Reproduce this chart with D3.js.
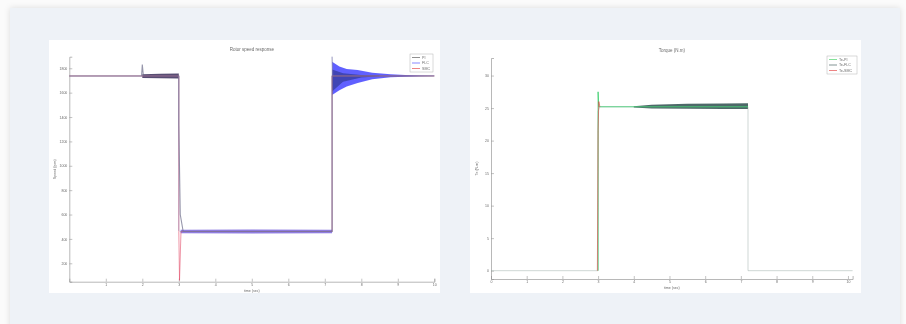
<!DOCTYPE html>
<html>
<head>
<meta charset="utf-8">
<script src="https://cdn.jsdelivr.net/npm/d3@7"></script>
<style>
  html, body { margin: 0; padding: 0; background: #fbfbfb; }
  svg { display: block; }
  text { font-family: "Liberation Sans", Arial, sans-serif; fill: #6a6a6a; }
</style>
</head>
<body>
<svg id="chart" width="906" height="324"></svg>
<script>
// ---- left figure: rotor speed ----
const speedXTicks = [1, 2, 3, 4, 5, 6, 7, 8, 9, 10];
const speedYTicks = [200, 400, 600, 800, 1000, 1200, 1400, 1600, 1800];
const speedNames = ['PI', 'FLC', 'SMC'];

const refT = [0, 3, 3, 3.02, 3.06, 7.2, 7.2, 10];
const refV = [1737, 1737, 461, 60, 461, 461, 1737, 1737];
const piT = [0, 1.98, 2, 2.03, 3, 3, 3.04, 3.12, 7.2, 7.2, 10];
const piV = [1737, 1737, 1830, 1737, 1737, 1340, 600, 461, 461, 1737, 1737];
const smcT = [0, 3, 3, 3.03, 7.2, 7.2, 7.22, 10];
const smcV = [1737, 1737, 470, 461, 461, 1895, 1737, 1737];

// ripple envelopes (lower / upper)
const piRippleT = [2, 2.5, 3];
const piRippleLo = [1720, 1718, 1716];
const piRippleHi = [1752, 1755, 1757];
const lowRippleT = [3.05, 5, 7.2];
const lowRippleLo = [447, 445, 447];
const lowRippleHi = [476, 478, 476];
const smcRippleT = [7.2, 7.4, 7.6, 7.9, 8.3, 8.8, 9.2, 9.6, 10];
const smcRippleLo = [1581, 1620, 1650, 1680, 1710, 1726, 1731, 1735, 1736];
const smcRippleHi = [1854, 1815, 1795, 1786, 1764, 1751, 1745, 1740, 1738];
const piRipple2T = [7.2, 7.5, 8, 8.5];
const piRipple2Lo = [1610, 1690, 1725, 1735];
const piRipple2Hi = [1790, 1760, 1745, 1740];

// ---- right figure: torque ----
const torqueXTicks = [0, 1, 2, 3, 4, 5, 6, 7, 8, 9, 10];
const torqueYTicks = [0, 5, 10, 15, 20, 25, 30];
const torqueNames = ['Te-PI', 'Te-FLC', 'Te-SMC'];

const te1T = [3, 3, 3.02, 7.2];
const te1V = [0, 27.5, 25.2, 25.2];
const te2T = [0, 3, 3, 3.05, 7.2, 7.2, 10.13];
const te2V = [0, 0, 24.5, 25.2, 25.2, 0, 0];
const te3T = [2.98, 3, 3.02, 3.05];
const te3V = [0, 21.6, 26, 25.2];
const teRippleT = [4, 4.5, 5.5, 6.5, 7.2];
const teRippleLo = [25.1, 24.95, 24.9, 24.85, 24.85];
const teRippleHi = [25.3, 25.5, 25.65, 25.7, 25.75];

const svg = d3.select('#chart');
const defs = svg.append('defs');

const shadow = defs.append('filter').attr('id', 'shadow')
  .attr('x', -0.05).attr('y', -0.1).attr('width', 1.1).attr('height', 1.2);
shadow.append('feDropShadow').attr('dx', 0).attr('dy', 0)
  .attr('stdDeviation', 3).attr('flood-color', '#000').attr('flood-opacity', 0.12);

const soft = defs.append('filter').attr('id', 'soft');
soft.append('feGaussianBlur').attr('stdDeviation', 0.35);

// panel
svg.append('rect')
  .attr('x', 10).attr('y', 8).attr('width', 890).attr('height', 330)
  .attr('fill', '#eef2f7').attr('filter', 'url(#shadow)');

function pts(T, V) { return T.map((t, i) => [t, V[i]]); }
function band(T, lo, hi) { return T.map((t, i) => [t, lo[i], hi[i]]); }

function drawFigure(cfg) {
  const g = svg.append('g').attr('filter', 'url(#soft)');
  g.append('rect')
    .attr('x', cfg.box[0]).attr('y', cfg.box[1])
    .attr('width', cfg.box[2]).attr('height', cfg.box[3])
    .attr('fill', '#fff');

  const x = d3.scaleLinear().domain(cfg.xDomain).range([cfg.left, cfg.right]);
  const y = d3.scaleLinear().domain(cfg.yDomain).range([cfg.bottom, cfg.top]);
  const fmt = d3.format('~g');

  const xAxis = g.append('g')
    .attr('transform', 'translate(0,' + cfg.bottom + ')')
    .call(d3.axisBottom(x).tickValues(cfg.xTicks).tickFormat(fmt).tickSize(-3).tickPadding(2));
  const yAxis = g.append('g')
    .attr('transform', 'translate(' + cfg.left + ',0)')
    .call(d3.axisLeft(y).tickValues(cfg.yTicks).tickFormat(fmt).tickSize(-3).tickPadding(2));

  [xAxis, yAxis].forEach(a => {
    a.select('.domain').attr('stroke', '#9a9a9a').attr('stroke-width', 0.7);
    a.selectAll('line').attr('stroke', '#9a9a9a').attr('stroke-width', 0.6);
    a.selectAll('text').style('font-size', '3.5px').attr('fill', '#6a6a6a');
  });

  const line = d3.line().x(d => x(d[0])).y(d => y(d[1]));
  const area = d3.area().x(d => x(d[0])).y0(d => y(d[1])).y1(d => y(d[2]));

  cfg.bands.forEach(b => {
    g.append('path').datum(band(b.T, b.lo, b.hi))
      .attr('d', area).attr('fill', b.color).attr('opacity', b.opacity);
  });
  cfg.lines.forEach(s => {
    g.append('path').datum(pts(s.T, s.V))
      .attr('d', line).attr('fill', 'none')
      .attr('stroke', s.color).attr('stroke-width', s.width)
      .attr('opacity', s.opacity);
  });

  // title and labels
  const mid = (cfg.left + cfg.right) / 2;
  g.append('text').attr('x', mid).attr('y', cfg.top - 6)
    .attr('text-anchor', 'middle').style('font-size', '4.5px').text(cfg.title);
  g.append('text').attr('x', mid).attr('y', cfg.bottom + 10)
    .attr('text-anchor', 'middle').style('font-size', '3.6px').text(cfg.xLabel);
  g.append('text')
    .attr('transform', 'translate(' + (cfg.left - 13) + ',' + ((cfg.top + cfg.bottom) / 2) + ') rotate(-90)')
    .attr('text-anchor', 'middle').style('font-size', '3.6px').text(cfg.yLabel);

  // legend
  const lg = g.append('g').attr('transform', 'translate(' + cfg.legend[0] + ',' + cfg.legend[1] + ')');
  lg.append('rect').attr('width', cfg.legend[2]).attr('height', 18)
    .attr('fill', '#fff').attr('stroke', '#b5b5b5').attr('stroke-width', 0.5);
  cfg.names.forEach((n, i) => {
    const yy = 3.5 + i * 5.5;
    lg.append('line').attr('x1', 2).attr('x2', 10).attr('y1', yy).attr('y2', yy)
      .attr('stroke', cfg.legendColors[i]).attr('stroke-width', 0.6);
    lg.append('text').attr('x', 12).attr('y', yy + 1.4).style('font-size', '3.6px').text(n);
  });
}

drawFigure({
  box: [49, 40, 391, 253],
  left: 69.3, right: 434.3, top: 56.7, bottom: 281.7,
  xDomain: [0, 10], yDomain: [49, 1895],
  xTicks: speedXTicks, yTicks: speedYTicks,
  title: 'Rotor speed response', xLabel: 'time (sec)', yLabel: 'Speed (rpm)',
  names: speedNames, legendColors: ['#444', '#3a3aff', '#e03030'],
  legend: [410, 54, 23],
  bands: [
    { T: piRippleT, lo: piRippleLo, hi: piRippleHi, color: '#3b2f5a', opacity: 0.85 },
    { T: lowRippleT, lo: lowRippleLo, hi: lowRippleHi, color: '#6a52d8', opacity: 0.75 },
    { T: smcRippleT, lo: smcRippleLo, hi: smcRippleHi, color: '#3a3aff', opacity: 0.8 },
    { T: piRipple2T, lo: piRipple2Lo, hi: piRipple2Hi, color: '#1d2a6a', opacity: 0.5 }
  ],
  lines: [
    { T: refT, V: refV, color: '#e04060', width: 0.7, opacity: 0.8 },
    { T: piT, V: piV, color: '#6a6a88', width: 1.1, opacity: 0.7 },
    { T: smcT, V: smcV, color: '#8080b0', width: 0.6, opacity: 0.8 }
  ]
});

drawFigure({
  box: [470, 40, 391, 253],
  left: 491, right: 852.6, top: 58, bottom: 279,
  xDomain: [0, 10.13], yDomain: [-1.28, 32.7],
  xTicks: torqueXTicks, yTicks: torqueYTicks,
  title: 'Torque (N.m)', xLabel: 'time (sec)', yLabel: 'Te (N.m)',
  names: torqueNames, legendColors: ['#33cc55', '#2f4f4f', '#e03030'],
  legend: [827, 56, 30],
  bands: [
    { T: teRippleT, lo: teRippleLo, hi: teRippleHi, color: '#2f4f4f', opacity: 0.85 }
  ],
  lines: [
    { T: te2T, V: te2V, color: '#9aaaa6', width: 0.6, opacity: 0.8 },
    { T: te1T, V: te1V, color: '#33cc66', width: 0.9, opacity: 0.85 },
    { T: te3T, V: te3V, color: '#e03030', width: 0.7, opacity: 0.8 }
  ]
});
</script>
</body>
</html>
